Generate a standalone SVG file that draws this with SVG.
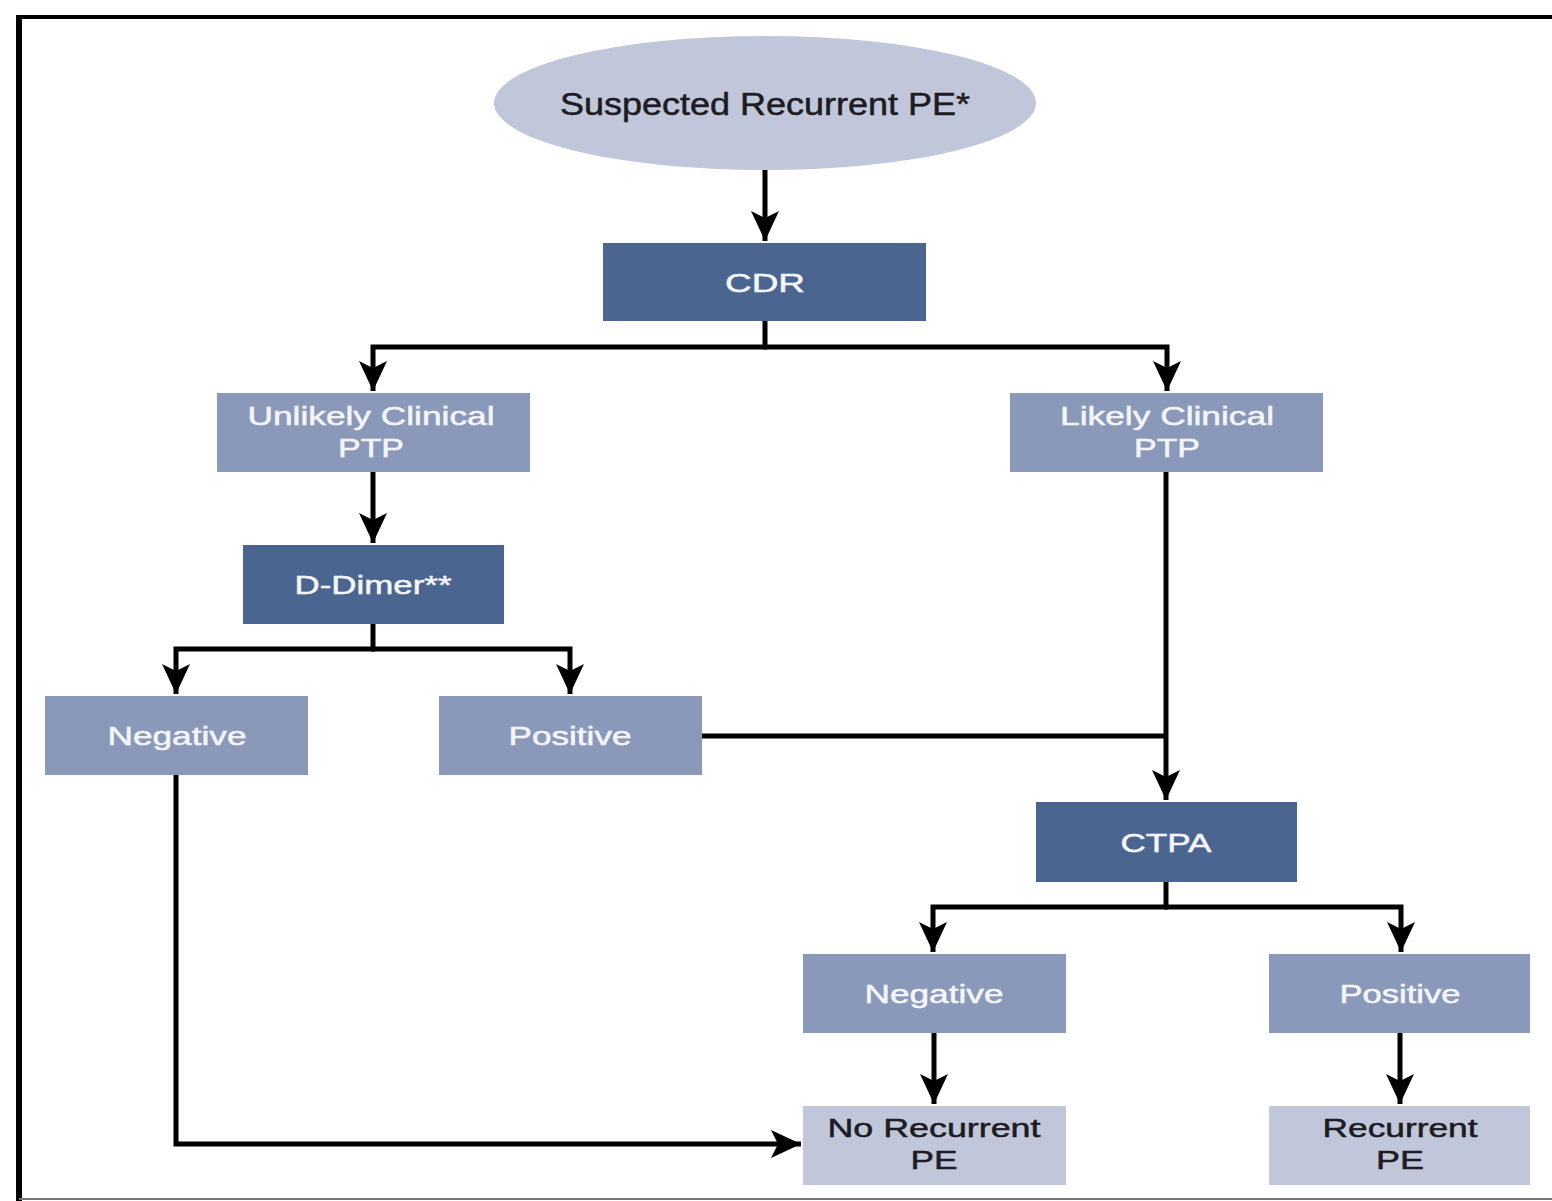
<svg xmlns="http://www.w3.org/2000/svg" width="1552" height="1201" viewBox="0 0 1552 1201">
<style>
.dark{fill:#4b6591}
.mid{fill:#8a99b9}
.light{fill:#c1c7da}
text{font-family:"Liberation Sans",Arial,sans-serif;font-size:26px;text-anchor:middle}
.w{fill:#f5f6fa;stroke:#f5f6fa;stroke-width:0.5}
.b{fill:#1c1c22;stroke:#1c1c22;stroke-width:0.5}
.c{fill:none;stroke:#000;stroke-width:5}
</style>
<defs>
<marker id="ah" viewBox="-31 -15 32 30" refX="0" refY="0" markerWidth="32" markerHeight="30" markerUnits="userSpaceOnUse" orient="auto">
<path d="M0,0 L-30,-14 L-23,0 L-30,14 Z" fill="#000"/>
</marker>
</defs>
<rect width="1552" height="1201" fill="#fff"/>
<g id="frame">
<line x1="16" y1="17" x2="1552" y2="17" stroke="#000" stroke-width="4"/>
<line x1="19" y1="15" x2="19" y2="1201" stroke="#000" stroke-width="6"/>
<line x1="19" y1="1199" x2="1552" y2="1199" stroke="#777" stroke-width="2"/>
</g>
<g id="connectors">
<path class="c" d="M765,170 V241" marker-end="url(#ah)"/>
<path class="c" d="M765,321 V347"/>
<path class="c" d="M767,347 H373 V391" marker-end="url(#ah)"/>
<path class="c" d="M763,347 H1167 V391" marker-end="url(#ah)"/>
<path class="c" d="M373,472 V543" marker-end="url(#ah)"/>
<path class="c" d="M373,624 V649"/>
<path class="c" d="M375,649 H176 V694" marker-end="url(#ah)"/>
<path class="c" d="M371,649 H570 V694" marker-end="url(#ah)"/>
<path class="c" d="M1166,472 V800" marker-end="url(#ah)"/>
<path class="c" d="M702,736 H1166"/>
<path class="c" d="M1166,882 V907"/>
<path class="c" d="M1168,907 H933 V952" marker-end="url(#ah)"/>
<path class="c" d="M1164,907 H1401 V952" marker-end="url(#ah)"/>
<path class="c" d="M934,1033 V1104" marker-end="url(#ah)"/>
<path class="c" d="M1400,1033 V1104" marker-end="url(#ah)"/>
<path class="c" d="M176,775 V1144 H801" marker-end="url(#ah)"/>
</g>
<g id="suspected">
<ellipse class="light" cx="765" cy="103" rx="271" ry="67"/>
<text class="b" x="765" y="115" style="font-size:31px" textLength="410" lengthAdjust="spacingAndGlyphs">Suspected Recurrent PE*</text>
</g>
<g id="cdr">
<rect class="dark" x="603" y="243" width="323" height="78"/>
<text class="w" x="765" y="292" textLength="80" lengthAdjust="spacingAndGlyphs">CDR</text>
</g>
<g id="unlikely">
<rect class="mid" x="217" y="393" width="313" height="79"/>
<text class="w" x="371" y="425" textLength="247" lengthAdjust="spacingAndGlyphs">Unlikely Clinical</text>
<text class="w" x="371" y="457" textLength="66" lengthAdjust="spacingAndGlyphs">PTP</text>
</g>
<g id="likely">
<rect class="mid" x="1010" y="393" width="313" height="79"/>
<text class="w" x="1167" y="425" textLength="214" lengthAdjust="spacingAndGlyphs">Likely Clinical</text>
<text class="w" x="1167" y="457" textLength="66" lengthAdjust="spacingAndGlyphs">PTP</text>
</g>
<g id="ddimer">
<rect class="dark" x="243" y="545" width="261" height="79"/>
<text class="w" x="373" y="594" textLength="157" lengthAdjust="spacingAndGlyphs">D-Dimer**</text>
</g>
<g id="dd-negative">
<rect class="mid" x="45" y="696" width="263" height="79"/>
<text class="w" x="177" y="745" textLength="139" lengthAdjust="spacingAndGlyphs">Negative</text>
</g>
<g id="dd-positive">
<rect class="mid" x="439" y="696" width="263" height="79"/>
<text class="w" x="570" y="745" textLength="123" lengthAdjust="spacingAndGlyphs">Positive</text>
</g>
<g id="ctpa">
<rect class="dark" x="1036" y="802" width="261" height="80"/>
<text class="w" x="1166" y="852" textLength="91" lengthAdjust="spacingAndGlyphs">CTPA</text>
</g>
<g id="ctpa-negative">
<rect class="mid" x="803" y="954" width="263" height="79"/>
<text class="w" x="934" y="1003" textLength="139" lengthAdjust="spacingAndGlyphs">Negative</text>
</g>
<g id="ctpa-positive">
<rect class="mid" x="1269" y="954" width="261" height="79"/>
<text class="w" x="1400" y="1003" textLength="121" lengthAdjust="spacingAndGlyphs">Positive</text>
</g>
<g id="no-recurrent">
<rect class="light" x="803" y="1106" width="263" height="79"/>
<text class="b" x="934" y="1137" textLength="213" lengthAdjust="spacingAndGlyphs">No Recurrent</text>
<text class="b" x="934" y="1169" textLength="47" lengthAdjust="spacingAndGlyphs">PE</text>
</g>
<g id="recurrent">
<rect class="light" x="1269" y="1106" width="261" height="79"/>
<text class="b" x="1400" y="1137" textLength="155" lengthAdjust="spacingAndGlyphs">Recurrent</text>
<text class="b" x="1400" y="1169" textLength="48" lengthAdjust="spacingAndGlyphs">PE</text>
</g>
</svg>
